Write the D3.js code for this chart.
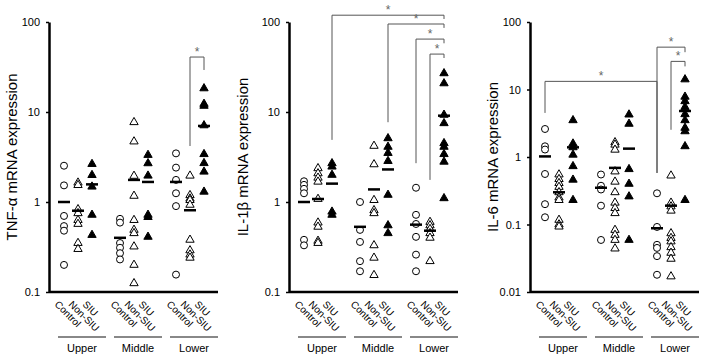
<!DOCTYPE html>
<html>
<head>
<meta charset="utf-8">
<script src="https://cdn.jsdelivr.net/npm/d3@7"></script>
<style>
  body { margin: 0; background: #fff; }
  svg { display: block; font-family: "Liberation Sans", Arial, sans-serif; }
</style>
</head>
<body>
<div id="chart"></div>
<script>
// groups along the x axis and the three columns in each
const groups = ["Upper", "Middle", "Lower"];
const subgroups = ["Control", "Non-SIU", "SIU"];

// TNF-a, columns in order Upper C/N/S, Middle C/N/S, Lower C/N/S
const tnfValues = [
  [2.53, 1.53, 0.70, 0.54, 0.48, 0.20],
  [1.64, 1.54, 0.83, 0.75, 0.63, 0.57, 0.35, 0.30],
  [2.64, 1.99, 1.48, 0.72, 0.43],
  [0.65, 0.59, 0.35, 0.31, 0.27, 0.23],
  [7.7, 4.7, 1.95, 1.17, 0.63, 0.49, 0.45, 0.32, 0.20, 0.125],
  [3.33, 2.69, 1.96, 0.72, 0.68, 0.41],
  [3.47, 2.41, 1.76, 1.25, 0.90, 0.156],
  [1.96, 1.19, 1.09, 1.05, 0.93, 0.38, 0.29, 0.26, 0.24],
  [18.3, 12.3, 11.7, 7.1, 3.4, 2.7, 2.17, 1.30]
];
const tnfMeans = [1.0, 0.80, 1.57, 0.40, 1.76, 1.67, 1.67, 0.81, 7.0];

// IL-1b
const il1bValues = [
  [1.7, 1.55, 1.4, 1.25, 0.38, 0.33],
  [2.37, 2.08, 1.86, 1.68, 1.08, 0.59, 0.53, 0.37, 0.35],
  [2.69, 2.47, 2.0, 0.78, 0.72],
  [1.0, 0.49, 0.36, 0.22, 0.17],
  [4.2, 2.62, 1.05, 0.81, 0.75, 0.33, 0.24, 0.154],
  [5.1, 4.1, 3.5, 2.85, 1.2, 0.55, 0.45],
  [1.44, 0.72, 0.57, 0.41, 0.26, 0.17],
  [0.60, 0.55, 0.50, 0.45, 0.40, 0.22],
  [26.9, 20.8, 9.3, 7.5, 4.5, 4.1, 3.4, 2.8, 1.1]
];
const il1bMeans = [1.0, 1.08, 1.6, 0.53, 1.38, 2.3, 0.56, 0.48, 9.1];

// IL-6
const il6Values = [
  [2.6, 1.44, 1.29, 0.56, 0.20, 0.128],
  [0.55, 0.47, 0.41, 0.36, 0.30, 0.25, 0.23, 0.117, 0.10, 0.093],
  [3.5, 1.58, 1.39, 1.08, 0.73, 0.46, 0.23],
  [0.55, 0.375, 0.33, 0.19, 0.059],
  [1.65, 1.52, 1.28, 0.61, 0.43, 0.30, 0.21, 0.175, 0.147, 0.083, 0.07, 0.059, 0.044],
  [4.25, 3.1, 0.66, 0.40, 0.26, 0.059],
  [0.29, 0.092, 0.050, 0.045, 0.034, 0.018],
  [0.53, 0.21, 0.185, 0.16, 0.074, 0.063, 0.056, 0.046, 0.038, 0.031, 0.017],
  [14.1, 7.8, 6.7, 5.5, 4.3, 3.5, 2.7, 2.4, 1.44, 0.23]
];
const il6Means = [1.02, 0.30, 1.39, 0.35, 0.69, 1.33, 0.088, 0.19, 4.8];

// tick labels
const ticksA = [0.1, 1, 10, 100];
const ticksB = [0.01, 0.1, 1, 10, 100];
const tickLabelsA = ["0.1", "1", "10", "100"];
const tickLabelsB = ["0.01", "0.1", "1", "10", "100"];

// significance brackets: [from column, to column, top, left end, right end]
const tnfSig = [[7, 8, 40.8, 4.19, 29.3]];
const il1bSig = [[2, 8, 119, 4.9, 108], [5, 8, 95, 7.7, 86], [6, 8, 64.6, 2.7, 58], [7, 8, 44, 1.76, 39.8]];
const il6Sig = [[0, 6, 13.2, 4.5, 0.58], [6, 8, 42.4, 0.58, 35.7], [7, 8, 26.1, 2.53, 22]];

const panels = [
  { title: "TNF-\u03b1 mRNA expression", values: tnfValues, means: tnfMeans, ticks: ticksA, tickLabels: tickLabelsA, sig: tnfSig, left: 49, labelOff: 37 },
  { title: "IL-1\u03b2 mRNA expression", values: il1bValues, means: il1bMeans, ticks: ticksA, tickLabels: tickLabelsA, sig: il1bSig, left: 289, labelOff: 46 },
  { title: "IL-6 mRNA expression", values: il6Values, means: il6Means, ticks: ticksB, tickLabels: tickLabelsB, sig: il6Sig, left: 530, labelOff: 37 }
];

const W = 702, H = 356;
const plotTop = 22, plotBottom = 292, axisLen = 169;

const svg = d3.select("#chart").append("svg")
  .attr("width", W)
  .attr("height", H);

const xGroup = d3.scaleBand().domain(groups).range([1, axisLen]);
const xSub = d3.scalePoint().domain(subgroups).range([-14, 14]);
const colX = i => xGroup(groups[Math.floor(i / 3)]) + xGroup.bandwidth() / 2 + xSub(subgroups[i % 3]);

const tri = d3.symbol().type(d3.symbolTriangle).size(30);

panels.forEach(p => {
  const g = svg.append("g").attr("transform", `translate(${p.left},0)`);
  const y = d3.scaleLog().domain([p.ticks[0], 100]).range([plotBottom, plotTop]);

  // y axis
  const yAxis = d3.axisLeft(y)
    .tickValues(p.ticks)
    .tickFormat((d, i) => p.tickLabels[i])
    .tickSizeInner(3)
    .tickSizeOuter(0)
    .tickPadding(6);
  const ya = g.append("g").call(yAxis);
  ya.select(".domain").attr("stroke", "#000").attr("stroke-width", 2.5);
  ya.selectAll(".tick line").attr("stroke", "#000").attr("stroke-width", 1.5);
  ya.selectAll(".tick text").attr("font-size", 11).attr("fill", "#000")
    .attr("font-family", "'Liberation Sans', Arial, sans-serif");

  // x axis line
  g.append("line")
    .attr("x1", 0).attr("x2", axisLen)
    .attr("y1", plotBottom).attr("y2", plotBottom)
    .attr("stroke", "#000").attr("stroke-width", 2.5);

  // y title
  g.append("text")
    .attr("transform", `translate(${-p.labelOff},${(plotTop + plotBottom) / 2}) rotate(-90)`)
    .attr("text-anchor", "middle")
    .attr("dy", "0.35em")
    .attr("font-size", 15)
    .attr("fill", "#000")
    .text(p.title);

  // category labels
  d3.range(9).forEach(i => {
    g.append("text")
      .attr("transform", `translate(${colX(i) - 5},${plotBottom + 8}) rotate(45)`)
      .attr("font-size", 10)
      .attr("fill", "#000")
      .attr("dy", "0.7em")
      .text(subgroups[i % 3]);
  });

  groups.forEach(gr => {
    const cx = xGroup(gr) + xGroup.bandwidth() / 2;
    g.append("line")
      .attr("x1", cx - 20).attr("x2", cx + 28)
      .attr("y1", 337).attr("y2", 337)
      .attr("stroke", "#888").attr("stroke-width", 2);
    g.append("text")
      .attr("x", cx + 4).attr("y", 352)
      .attr("text-anchor", "middle")
      .attr("font-size", 11)
      .attr("fill", "#000")
      .text(gr);
  });

  // points
  p.values.forEach((vals, i) => {
    const kind = i % 3;
    const pts = g.append("g").selectAll("path")
      .data(vals).enter();
    if (kind === 0) {
      pts.append("circle")
        .attr("cx", colX(i)).attr("cy", d => y(d)).attr("r", 3.5)
        .attr("fill", "#fff").attr("stroke", "#000").attr("stroke-width", 1);
    } else {
      pts.append("path")
        .attr("d", tri)
        .attr("transform", d => `translate(${colX(i)},${y(d)})`)
        .attr("fill", kind === 1 ? "#fff" : "#000")
        .attr("stroke", "#000").attr("stroke-width", 1);
    }
  });

  // mean bars
  g.selectAll(".mean").data(p.means).enter().append("line")
    .attr("x1", (d, i) => colX(i) - 6).attr("x2", (d, i) => colX(i) + 6)
    .attr("y1", d => y(d)).attr("y2", d => y(d))
    .attr("stroke", "#000").attr("stroke-width", 2.5);

  // brackets
  p.sig.forEach(s => {
    const x1 = colX(s[0]), x2 = colX(s[1]);
    g.append("path")
      .attr("d", `M${x1},${y(s[3])}V${y(s[2])}H${x2}V${y(s[4])}`)
      .attr("fill", "none").attr("stroke", "#555").attr("stroke-width", 1);
    g.append("text")
      .attr("x", (x1 + x2) / 2).attr("y", y(s[2]) - 1)
      .attr("text-anchor", "middle")
      .attr("font-size", 12)
      .attr("fill", "#666")
      .text("*");
  });
});
</script>
</body>
</html>
